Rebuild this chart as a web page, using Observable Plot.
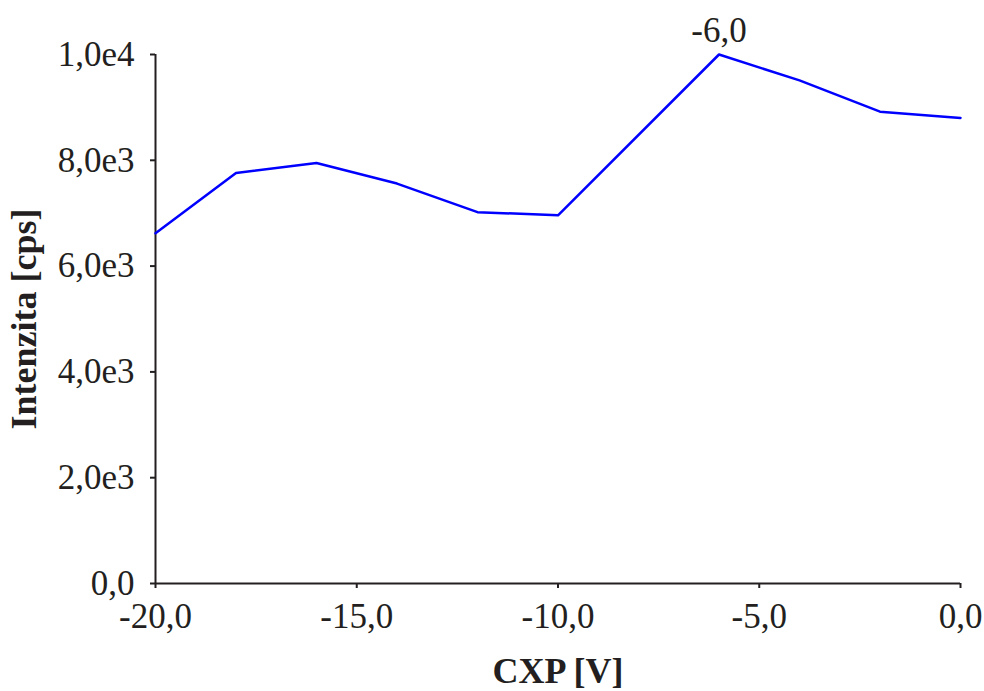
<!DOCTYPE html>
<html>
<head>
<meta charset="utf-8">
<script src="https://cdn.jsdelivr.net/npm/d3@7"></script>
<script src="https://cdn.jsdelivr.net/npm/@observablehq/plot@0.6"></script>
<style>
  html, body { margin: 0; padding: 0; background: #fff; }
  #chart svg text { fill: #231f20; }
</style>
</head>
<body>
<div id="chart"></div>
<script>
const cxp = [-20, -18, -16, -14, -12, -10, -6, -4, -2, 0];
const intensity = [6620, 7760, 7950, 7560, 7020, 6960, 10000, 9510, 8920, 8800];
const xTicks = [-20, -15, -10, -5, 0];
const xTickLabels = ["-20,0", "-15,0", "-10,0", "-5,0", "0,0"];
const yTicks = [0, 2000, 4000, 6000, 8000, 10000];
const yTickLabels = ["0,0", "2,0e3", "4,0e3", "6,0e3", "8,0e3", "1,0e4"];
const peakX = [-6];
const peakY = [10000];
const peakLabel = ["-6,0"];
const xTitle = "CXP [V]";
const yTitle = "Intenzita [cps]";

const data = cxp.map((x, i) => ({x, y: intensity[i]}));
const peak = peakX.map((x, i) => ({x, y: peakY[i], label: peakLabel[i]}));

const chart = Plot.plot({
  width: 984,
  height: 691,
  marginLeft: 155,
  marginRight: 24,
  marginTop: 54,
  marginBottom: 108,
  style: {fontFamily: "'Liberation Serif', 'Times New Roman', serif", fontSize: "35px", color: "#231f20", background: "#fff"},
  x: {domain: [-20, 0]},
  y: {domain: [0, 10000]},
  marks: [
    Plot.ruleX([-20], {stroke: "#231f20", strokeWidth: 2}),
    Plot.ruleY([0], {stroke: "#231f20", strokeWidth: 2}),
    Plot.axisY({
      ticks: yTicks,
      tickFormat: d => yTickLabels[yTicks.indexOf(d)],
      tickSize: 5,
      tickPadding: 16,
      strokeWidth: 2,
      label: yTitle,
      labelArrow: "none",
      labelAnchor: "center",
      labelOffset: 145,
      fontSize: 35
    }),
    Plot.axisX({
      ticks: xTicks,
      tickFormat: d => xTickLabels[xTicks.indexOf(d)],
      tickSize: 5,
      tickPadding: 15,
      strokeWidth: 2,
      label: xTitle,
      labelArrow: "none",
      labelAnchor: "center",
      labelOffset: 99,
      fontSize: 35
    }),
    Plot.line(data, {x: "x", y: "y", stroke: "#0000ff", strokeWidth: 2.5}),
    Plot.text(peak, {x: "x", y: "y", text: "label", dy: -24, fontSize: 35})
  ]
});

d3.select(chart).selectAll("[aria-label='y-axis label'] text, [aria-label='x-axis label'] text")
  .style("font-weight", "bold").style("font-size", "36px")
  .each(function() {
    const t = this.textContent.replace(/\s*[→↑←↓]\s*/g, "");
    this.textContent = t;
  });

document.getElementById("chart").appendChild(chart);
</script>
</body>
</html>
